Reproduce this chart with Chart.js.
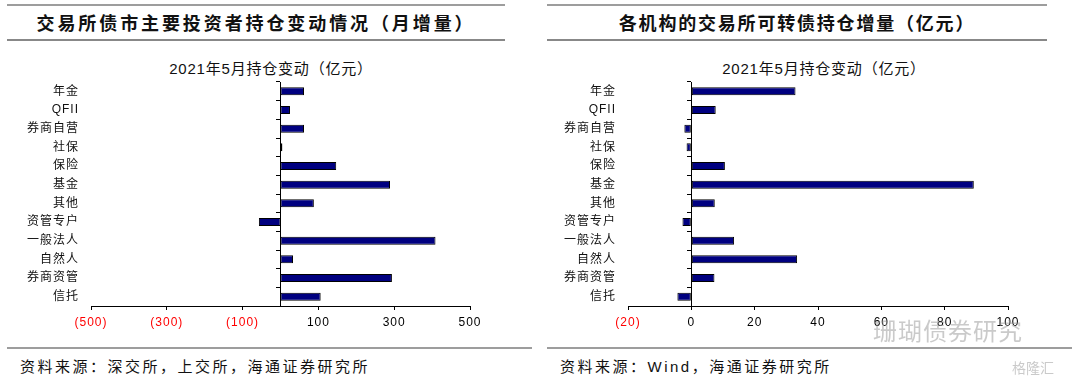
<!DOCTYPE html>
<html>
<head>
<meta charset="utf-8">
<script src="https://cdn.jsdelivr.net/npm/chart.js@4/dist/chart.umd.min.js"></script>
<style>
  body { margin: 0; width: 1080px; height: 381px; overflow: hidden; background: #fff; position: relative;
         font-family: "Liberation Sans", "Noto Sans CJK SC", sans-serif; }
  .rule { position: absolute; height: 2px; background: #9d9d9d; }
  .head { position: absolute; top: 12px; line-height: 24px; text-align: center; font-weight: bold;
          font-size: 18px; color: #111; white-space: nowrap; }
  .sub { position: absolute; top: 60px; width: 240px; line-height: 18px; text-align: center; font-size: 15px;
         letter-spacing: 0.8px; color: #111; }
  .foot { position: absolute; top: 358px; line-height: 18px; font-size: 15px; letter-spacing: 2.5px; color: #111; }
  canvas { position: absolute; top: 50px; }
  .mark { position: absolute; color: rgba(150,150,150,0.5); }
</style>
</head>
<body>
<div class="rule" style="left:7px; top:4px; width:498px;"></div>
<div class="head" style="left:7px; width:498px; letter-spacing:2.9px;">交易所债市主要投资者持仓变动情况（月增量）</div>
<div class="rule" style="left:7px; top:39px; width:498px; height:1.5px; background:#888;"></div>

<div class="rule" style="left:547px; top:4px; width:500px;"></div>
<div class="head" style="left:547px; width:500px; letter-spacing:1.8px;">各机构的交易所可转债持仓增量（亿元）</div>
<div class="rule" style="left:547px; top:39px; width:500px; height:1.5px; background:#888;"></div>

<div class="sub" style="left:151px;">2021年5月持仓变动（亿元）</div>
<div class="sub" style="left:704px;">2021年5月持仓变动（亿元）</div>

<canvas id="leftChart" width="540" height="286" style="left:0px;"></canvas>
<canvas id="rightChart" width="528" height="286" style="left:560px;"></canvas>

<div class="rule" style="left:7px; top:347px; width:525px;"></div>
<div class="rule" style="left:547px; top:347px; width:525px;"></div>
<div class="foot" style="left:20px;">资料来源：深交所，上交所，海通证券研究所</div>
<div class="foot" style="left:560px;">资料来源：Wind，海通证券研究所</div>

<div class="mark" style="left:873px; top:317px; font-size:24px; line-height:30px; letter-spacing:1px;">珊瑚债券研究</div>
<div class="mark" style="left:1012px; top:359px; font-size:14px; line-height:18px;">格隆汇</div>

<script>
// 投资者类别
var categories = ['年金', 'QFII', '券商自营', '社保', '保险', '基金', '其他', '资管专户', '一般法人', '自然人', '券商资管', '信托'];
// 交易所债市持仓变动（亿元）
var bondChange = [62, 25, 62, 5, 147, 289, 88, -57, 409, 33, 294, 106];
// 交易所可转债持仓变动（亿元）
var cbChange = [32.9, 7.7, -2.2, -1.5, 10.6, 89.2, 7.4, -2.8, 13.5, 33.4, 7.3, -4.4];
var bondTicks = { min: -500, max: 500, step: 200 };
var cbTicks = { min: -20, max: 100, step: 20 };

var fontFamily = '"Liberation Sans", "Noto Sans CJK SC", sans-serif';

// a bit of spacing between label characters, like the original
var spacingPlugin = {
    id: 'spacing',
    beforeDraw: function(chart) { chart.ctx.letterSpacing = '1px'; },
    afterDraw: function(chart) { chart.ctx.letterSpacing = '0px'; }
};

function draw_bar_chart(id, values, range, yWidth, padRight) {
    var config = {
        type: 'bar',
        data: {
            labels: categories,
            datasets: [{
                data: values,
                backgroundColor: '#000080',
                borderColor: '#000000',
                borderWidth: 1,
                borderSkipped: false,
                barPercentage: 0.48,
                categoryPercentage: 0.9
            }]
        },
        options: {
            indexAxis: 'y',
            responsive: false,
            animation: false,
            layout: { padding: { left: 0, right: padRight, top: 32, bottom: 0 } },
            plugins: {
                legend: { display: false },
                tooltip: { enabled: false }
            },
            scales: {
                x: {
                    type: 'linear',
                    min: range.min,
                    max: range.max,
                    afterFit: function(scale) { scale.height = 30; },
                    ticks: {
                        stepSize: range.step,
                        padding: 5,
                        font: { family: fontFamily, size: 12 },
                        color: function(ctx) {
                            return ctx.tick && ctx.tick.value < 0 ? '#ff0000' : '#000000';
                        },
                        callback: function(v) {
                            return v < 0 ? '(' + (-v) + ')' : '' + v;
                        }
                    },
                    grid: { drawOnChartArea: false, tickLength: 4, color: '#000' },
                    border: { color: '#000', width: 1 }
                },
                y: {
                    type: 'category',
                    afterFit: function(scale) { scale.width = yWidth; },
                    ticks: { padding: 12, color: '#111', font: { family: fontFamily, size: 12 } },
                    grid: { display: false, drawTicks: false },
                    border: { display: false }
                },
                // axis line crossing at zero, with tick marks between categories
                yZero: {
                    type: 'category',
                    position: { x: 0 },
                    offset: true,
                    ticks: { display: false },
                    grid: { offset: true, drawOnChartArea: false, tickLength: 4, color: '#000' },
                    border: { color: '#000', width: 1 }
                }
            }
        },
        plugins: [spacingPlugin]
    };
    return new Chart(document.getElementById(id), config);
}

draw_bar_chart('leftChart', bondChange, bondTicks, 91, 70);
draw_bar_chart('rightChart', cbChange, cbTicks, 68, 80);
</script>
</body>
</html>
